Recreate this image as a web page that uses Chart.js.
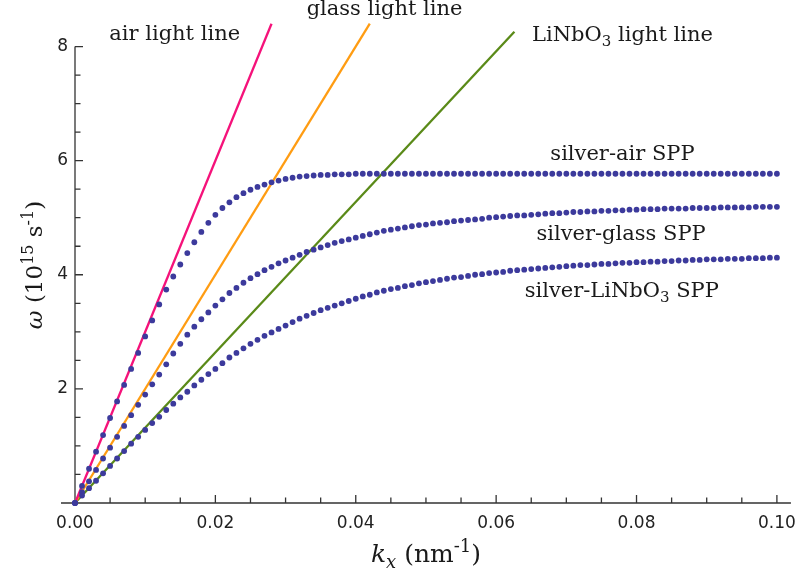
<!DOCTYPE html>
<html>
<head>
<meta charset="utf-8">
<script src="https://cdn.jsdelivr.net/npm/chart.js@4.4.1/dist/chart.umd.min.js"></script>
<style>
  html, body { margin: 0; padding: 0; background: #fff; }
  canvas { display: block; }
</style>
</head>
<body>
<canvas id="sppChart" width="806" height="579"></canvas>
<script>
// k_x sample points (nm^-1)
const kValues = [
  0, 0.001, 0.002, 0.003, 0.004, 0.005, 0.006, 0.007, 0.008, 0.009,
  0.010, 0.011, 0.012, 0.013, 0.014, 0.015, 0.016, 0.017, 0.018, 0.019,
  0.020, 0.021, 0.022, 0.023, 0.024, 0.025, 0.026, 0.027, 0.028, 0.029,
  0.030, 0.031, 0.032, 0.033, 0.034, 0.035, 0.036, 0.037, 0.038, 0.039,
  0.040, 0.041, 0.042, 0.043, 0.044, 0.045, 0.046, 0.047, 0.048, 0.049,
  0.050, 0.051, 0.052, 0.053, 0.054, 0.055, 0.056, 0.057, 0.058, 0.059,
  0.060, 0.061, 0.062, 0.063, 0.064, 0.065, 0.066, 0.067, 0.068, 0.069,
  0.070, 0.071, 0.072, 0.073, 0.074, 0.075, 0.076, 0.077, 0.078, 0.079,
  0.080, 0.081, 0.082, 0.083, 0.084, 0.085, 0.086, 0.087, 0.088, 0.089,
  0.090, 0.091, 0.092, 0.093, 0.094, 0.095, 0.096, 0.097, 0.098, 0.099,
  0.100
];

// omega (10^15 s^-1)
const airSpp = [
  0, 0.30, 0.60, 0.90, 1.19, 1.49, 1.78, 2.07, 2.35, 2.63,
  2.92, 3.20, 3.48, 3.74, 3.97, 4.18, 4.38, 4.57, 4.75, 4.91,
  5.05, 5.17, 5.27, 5.36, 5.43, 5.49, 5.54, 5.58, 5.62, 5.65,
  5.68, 5.70, 5.72, 5.73, 5.74, 5.75, 5.75, 5.76, 5.76, 5.76,
  5.77, 5.77, 5.77, 5.77, 5.77, 5.77, 5.77, 5.77, 5.77, 5.77,
  5.77, 5.77, 5.77, 5.77, 5.77, 5.77, 5.77, 5.77, 5.77, 5.77,
  5.77, 5.77, 5.77, 5.77, 5.77, 5.77, 5.77, 5.77, 5.77, 5.77,
  5.77, 5.77, 5.77, 5.77, 5.77, 5.77, 5.77, 5.77, 5.77, 5.77,
  5.77, 5.77, 5.77, 5.77, 5.77, 5.77, 5.77, 5.77, 5.77, 5.77,
  5.77, 5.77, 5.77, 5.77, 5.77, 5.77, 5.77, 5.77, 5.77, 5.77,
  5.77
];
const glassSpp = [
  0, 0.19, 0.38, 0.58, 0.78, 0.97, 1.16, 1.35, 1.54, 1.72,
  1.90, 2.08, 2.25, 2.43, 2.62, 2.79, 2.95, 3.09, 3.22, 3.34,
  3.46, 3.57, 3.68, 3.77, 3.86, 3.94, 4.01, 4.08, 4.14, 4.20,
  4.25, 4.30, 4.35, 4.40, 4.44, 4.48, 4.52, 4.56, 4.59, 4.62,
  4.65, 4.68, 4.71, 4.74, 4.77, 4.79, 4.81, 4.83, 4.85, 4.87,
  4.88, 4.90, 4.91, 4.92, 4.94, 4.95, 4.96, 4.97, 4.98, 5.00,
  5.01, 5.02, 5.03, 5.04, 5.04, 5.05, 5.06, 5.07, 5.08, 5.08,
  5.09, 5.10, 5.10, 5.11, 5.11, 5.12, 5.12, 5.13, 5.13, 5.14,
  5.14, 5.15, 5.15, 5.15, 5.16, 5.16, 5.16, 5.16, 5.17, 5.17,
  5.17, 5.17, 5.18, 5.18, 5.18, 5.18, 5.18, 5.19, 5.19, 5.19,
  5.19
];
const linbo3Spp = [
  0, 0.13, 0.26, 0.39, 0.52, 0.65, 0.78, 0.91, 1.04, 1.16,
  1.28, 1.40, 1.51, 1.63, 1.74, 1.85, 1.95, 2.06, 2.16, 2.26,
  2.35, 2.45, 2.55, 2.63, 2.71, 2.79, 2.86, 2.93, 2.99, 3.05,
  3.11, 3.17, 3.23, 3.28, 3.33, 3.38, 3.42, 3.46, 3.50, 3.54,
  3.58, 3.62, 3.65, 3.69, 3.72, 3.75, 3.77, 3.80, 3.82, 3.85,
  3.87, 3.89, 3.91, 3.93, 3.95, 3.96, 3.98, 4.00, 4.01, 4.03,
  4.04, 4.05, 4.07, 4.08, 4.09, 4.10, 4.11, 4.12, 4.13, 4.14,
  4.15, 4.16, 4.17, 4.17, 4.18, 4.19, 4.19, 4.20, 4.21, 4.21,
  4.22, 4.22, 4.23, 4.23, 4.24, 4.24, 4.25, 4.25, 4.26, 4.26,
  4.27, 4.27, 4.27, 4.28, 4.28, 4.28, 4.29, 4.29, 4.29, 4.30,
  4.30
];

// light lines: end points
const airLineK = [0, 0.028];
const airLineW = [0, 8.4];
const glassLineK = [0, 0.042];
const glassLineW = [0, 8.4];
const linbo3LineK = [0, 0.0626];
const linbo3LineW = [0, 8.26];

const xTickValues = [0, 0.02, 0.04, 0.06, 0.08, 0.10];
const yTickValues = [2, 4, 6, 8];

const toPoints = (xs, ys) => xs.map((x, i) => ({ x: x, y: ys[i] }));

const DOT = '#3c3a9c';
const AXIS = '#333';
const SERIF = '"DejaVu Serif", serif';

// text labels, placed in data units (center k, baseline omega)
const curveLabels = [
  { k: 0.0142, w: 8.11, parts: [{ t: 'air light line' }] },
  { k: 0.0441, w: 8.56, parts: [{ t: 'glass light line' }] },
  { k: 0.0780, w: 8.09, parts: [{ t: 'LiNbO' }, { t: '3', sub: true }, { t: ' light line' }] },
  { k: 0.0780, w: 6.02, parts: [{ t: 'silver-air SPP' }] },
  { k: 0.0778, w: 4.61, parts: [{ t: 'silver-glass SPP' }] },
  { k: 0.0779, w: 3.61, parts: [{ t: 'silver-LiNbO' }, { t: '3', sub: true }, { t: ' SPP' }] }
];

function drawRich(ctx, parts, x, y, size) {
  const fontFor = p => (p.it ? 'italic ' : '') + Math.round((p.sub || p.sup) ? size * 0.7 : size) + 'px ' + SERIF;
  let total = 0;
  const widths = parts.map(p => {
    ctx.font = fontFor(p);
    const w = ctx.measureText(p.t).width;
    total += w;
    return w;
  });
  let cx = x - total / 2;
  ctx.textAlign = 'left';
  ctx.textBaseline = 'alphabetic';
  parts.forEach((p, i) => {
    ctx.font = fontFor(p);
    const dy = p.sup ? -size * 0.4 : (p.sub ? size * 0.22 : 0);
    ctx.fillText(p.t, cx, y + dy);
    cx += widths[i];
  });
}

const axesPlugin = {
  id: 'mmaAxes',
  beforeDatasetsDraw(chart) {
    const { ctx, chartArea } = chart;
    const xs = chart.scales.x, ys = chart.scales.y;
    const x0 = xs.getPixelForValue(0), y0 = ys.getPixelForValue(0);
    ctx.save();
    ctx.strokeStyle = AXIS;
    ctx.lineWidth = 1.3;
    ctx.beginPath();
    ctx.moveTo(xs.getPixelForValue(-0.002), y0);
    ctx.lineTo(chartArea.right, y0);
    ctx.moveTo(x0, y0);
    ctx.lineTo(x0, ys.getPixelForValue(8));
    // x ticks every 0.005, major every 0.02
    for (let i = 1; i <= 20; i++) {
      const px = xs.getPixelForValue(i * 0.005);
      const len = i % 4 === 0 ? 8 : 5.5;
      ctx.moveTo(px, y0);
      ctx.lineTo(px, y0 - len);
    }
    // y ticks every 0.5, major every 2
    for (let i = 1; i <= 16; i++) {
      const py = ys.getPixelForValue(i * 0.5);
      const len = i % 4 === 0 ? 8 : 5.5;
      ctx.moveTo(x0, py);
      ctx.lineTo(x0 + len, py);
    }
    ctx.stroke();
    ctx.restore();
  },
  afterDraw(chart) {
    const { ctx, chartArea } = chart;
    const xs = chart.scales.x, ys = chart.scales.y;
    ctx.save();
    ctx.fillStyle = '#1a1a1a';
    curveLabels.forEach(l => {
      drawRich(ctx, l.parts, xs.getPixelForValue(l.k), ys.getPixelForValue(l.w), 21);
    });
    // x axis title
    drawRich(ctx, [{ t: 'k', it: true }, { t: 'x', it: true, sub: true }, { t: ' (nm' }, { t: '-1', sup: true }, { t: ')' }],
      (xs.getPixelForValue(0) + xs.getPixelForValue(0.1)) / 2, chartArea.bottom + 59, 25);
    // y axis title
    ctx.translate(42, 265);
    ctx.rotate(-Math.PI / 2);
    drawRich(ctx, [{ t: 'ω', it: true }, { t: ' (10' }, { t: '15', sup: true }, { t: ' s' }, { t: '-1', sup: true }, { t: ')' }], 0, 0, 23);
    ctx.restore();
  }
};

const dotStyle = {
  showLine: false,
  pointRadius: 2.9,
  pointBorderWidth: 0,
  pointBackgroundColor: DOT,
  backgroundColor: DOT,
  borderColor: DOT,
  clip: false
};
const lineStyle = {
  showLine: true,
  pointRadius: 0,
  borderWidth: 2.3,
  clip: false
};

new Chart(document.getElementById('sppChart').getContext('2d'), {
  type: 'scatter',
  data: {
    datasets: [
      Object.assign({ label: 'silver-air SPP', data: toPoints(kValues, airSpp) }, dotStyle),
      Object.assign({ label: 'silver-glass SPP', data: toPoints(kValues, glassSpp) }, dotStyle),
      Object.assign({ label: 'silver-LiNbO3 SPP', data: toPoints(kValues, linbo3Spp) }, dotStyle),
      Object.assign({ label: 'air light line', data: toPoints(airLineK, airLineW), borderColor: '#f5127a' }, lineStyle),
      Object.assign({ label: 'glass light line', data: toPoints(glassLineK, glassLineW), borderColor: '#ff9c12' }, lineStyle),
      Object.assign({ label: 'LiNbO3 light line', data: toPoints(linbo3LineK, linbo3LineW), borderColor: '#5a8a18' }, lineStyle)
    ]
  },
  options: {
    responsive: false,
    animation: false,
    layout: { padding: { top: 18, right: 9, left: 0, bottom: 0 } },
    plugins: {
      legend: { display: false },
      tooltip: { enabled: false }
    },
    scales: {
      x: {
        type: 'linear',
        min: 0,
        max: 0.102,
        grid: { display: false, drawTicks: false },
        border: { display: false },
        afterBuildTicks: s => { s.ticks = xTickValues.map(v => ({ value: v })); },
        afterFit: s => { s.height = 76; },
        ticks: {
          autoSkip: false,
          maxRotation: 0,
          padding: 10,
          color: '#222',
          font: { family: '"DejaVu Sans", sans-serif', size: 17 },
          callback: v => v.toFixed(2)
        }
      },
      y: {
        type: 'linear',
        min: 0,
        max: 8.5,
        grid: { display: false, drawTicks: false },
        border: { display: false },
        afterBuildTicks: s => { s.ticks = yTickValues.map(v => ({ value: v })); },
        afterFit: s => { s.width = 75; },
        ticks: {
          autoSkip: false,
          padding: 7,
          color: '#222',
          font: { family: '"DejaVu Sans", sans-serif', size: 17 },
          callback: v => String(v)
        }
      }
    }
  },
  plugins: [axesPlugin]
});
</script>
</body>
</html>
